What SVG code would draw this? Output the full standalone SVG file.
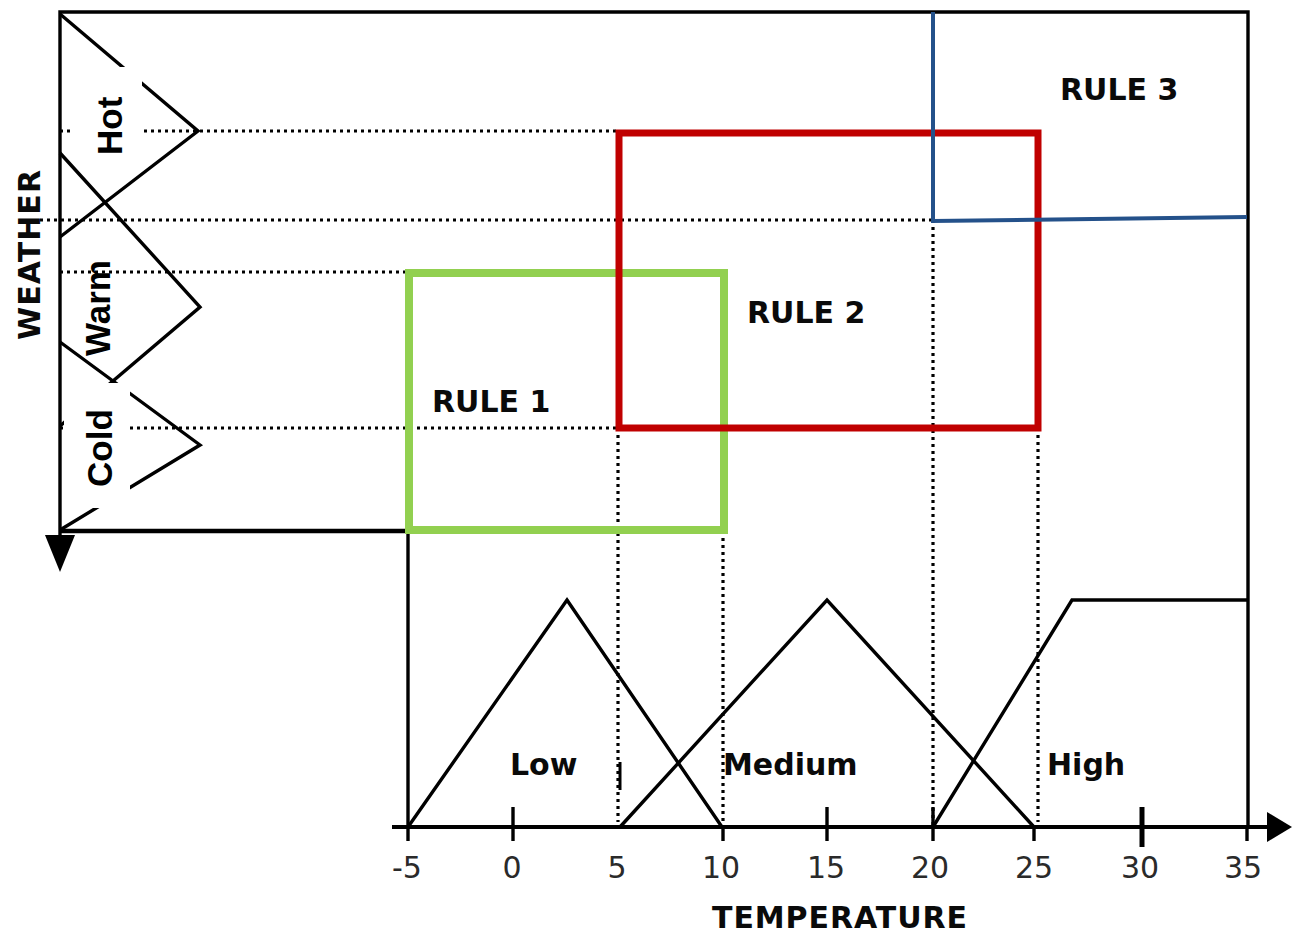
<svg xmlns="http://www.w3.org/2000/svg" width="1292" height="933" viewBox="0 0 1292 933">
  <style>
    .ln { fill: none; stroke: #000; stroke-width: 3.4; stroke-linejoin: miter; }
    .dot { fill: none; stroke: #000; stroke-width: 3.2; stroke-dasharray: 3 4; }
    .lbl { font-family: "DejaVu Sans", Verdana, sans-serif; font-weight: bold; font-size: 30px; fill: #0a0a0a; }
    .num { font-family: "DejaVu Sans", Verdana, sans-serif; font-size: 30px; fill: #2a2a2a; text-anchor: middle; }
    .mf { font-family: "Liberation Sans", Arial, sans-serif; font-weight: bold; font-size: 35px; fill: #000; }
    .tick { stroke: #000; stroke-width: 3.4; }
  </style>

  <rect width="1292" height="933" fill="#fff"/>

  <!-- frame of the rule plane -->
  <g id="frame">
    <polyline class="ln" points="60,540 60,12 1248,12 1248,827"/>
    <line x1="60" y1="531" x2="410" y2="531" stroke="#000" stroke-width="4.5"/>
    <line class="ln" x1="408" y1="531" x2="408" y2="827"/>
    <polygon points="45,535 75,535 60,572" fill="#000"/>
  </g>

  <!-- weather membership functions (left, rotated) -->
  <g id="weather-sets">
    <polyline class="ln" points="60,14 198,131 60,237"/>
    <polyline class="ln" points="60,153 200,307 60,426"/>
    <polyline class="ln" points="60,342 200,445 60,530"/>
  </g>

  <!-- projection guides -->
  <g id="connectors">
    <line class="dot" x1="60" y1="131" x2="617" y2="131"/>
    <line class="dot" x1="40" y1="220" x2="932" y2="220"/>
    <line class="dot" x1="60" y1="272" x2="408" y2="272"/>
    <line class="dot" x1="60" y1="428" x2="617" y2="428"/>
    <line class="dot" x1="618" y1="428" x2="618" y2="822"/>
    <line class="dot" x1="723" y1="531" x2="723" y2="827"/>
    <line class="dot" x1="933" y1="220" x2="933" y2="827"/>
    <line class="dot" x1="1038" y1="428" x2="1038" y2="822"/>
    <line x1="620" y1="762" x2="620" y2="790" stroke="#000" stroke-width="3"/>
  </g>

  <!-- labels with white backing on the weather axis -->
  <g id="label-hot">
    <rect x="70" y="67" width="72" height="93" fill="#fff"/>
    <text class="mf" transform="translate(122,155) rotate(-90)">Hot</text>
  </g>
  <g id="label-warm">
    <text class="mf" transform="translate(110,356) rotate(-90)">Warm</text>
  </g>
  <g id="label-cold">
    <rect x="64" y="383" width="66" height="125" fill="#fff"/>
    <text class="mf" transform="translate(112,487) rotate(-90)">Cold</text>
  </g>

  <g id="axis-weather-title">
    <text class="lbl" font-size="31" textLength="170" transform="translate(40,340) rotate(-90)">WEATHER</text>
  </g>

  <!-- rule regions -->
  <g id="rule1">
    <rect x="409" y="273" width="315" height="257" fill="none" stroke="#92D050" stroke-width="8"/>
    <text class="lbl" x="432" y="412">RULE 1</text>
  </g>
  <g id="rule2">
    <rect x="619" y="133" width="419" height="295" fill="none" stroke="#C00000" stroke-width="7"/>
    <text class="lbl" x="747" y="323">RULE 2</text>
  </g>
  <g id="rule3">
    <polyline points="933,12 933,221 1247,217" fill="none" stroke="#24518A" stroke-width="4"/>
    <text class="lbl" x="1060" y="100">RULE 3</text>
  </g>

  <!-- temperature membership functions -->
  <g id="temp-low">
    <polyline class="ln" points="408,827 567,600 722,827"/>
    <text class="lbl" x="510" y="775">Low</text>
  </g>
  <g id="temp-medium">
    <polyline class="ln" points="620,827 827,600 1034,827"/>
    <text class="lbl" x="723" y="775">Medium</text>
  </g>
  <g id="temp-high">
    <polyline class="ln" points="933,827 1072,600 1247,600"/>
    <text class="lbl" x="1047" y="775">High</text>
  </g>

  <!-- temperature axis -->
  <g id="axis-temperature">
    <line x1="392" y1="827" x2="1270" y2="827" stroke="#000" stroke-width="4"/>
    <polygon points="1267,812 1267,842 1292,827" fill="#000"/>
    <line class="tick" x1="408" y1="827" x2="408" y2="841"/>
    <line class="tick" x1="513" y1="807" x2="513" y2="841"/>
    <line class="tick" x1="723" y1="827" x2="723" y2="841"/>
    <line class="tick" x1="827" y1="807" x2="827" y2="841"/>
    <line class="tick" x1="933" y1="807" x2="933" y2="841"/>
    <line class="tick" x1="1034" y1="827" x2="1034" y2="841"/>
    <line x1="1142" y1="807" x2="1142" y2="847" stroke="#000" stroke-width="5"/>
    <line class="tick" x1="1247" y1="827" x2="1247" y2="841"/>
    <text class="num" x="407" y="878">-5</text>
    <text class="num" x="512" y="878">0</text>
    <text class="num" x="617" y="878">5</text>
    <text class="num" x="721" y="878">10</text>
    <text class="num" x="826" y="878">15</text>
    <text class="num" x="930" y="878">20</text>
    <text class="num" x="1034" y="878">25</text>
    <text class="num" x="1140" y="878">30</text>
    <text class="num" x="1243" y="878">35</text>
    <text class="lbl" x="712" y="928" textLength="255">TEMPERATURE</text>
  </g>
</svg>
